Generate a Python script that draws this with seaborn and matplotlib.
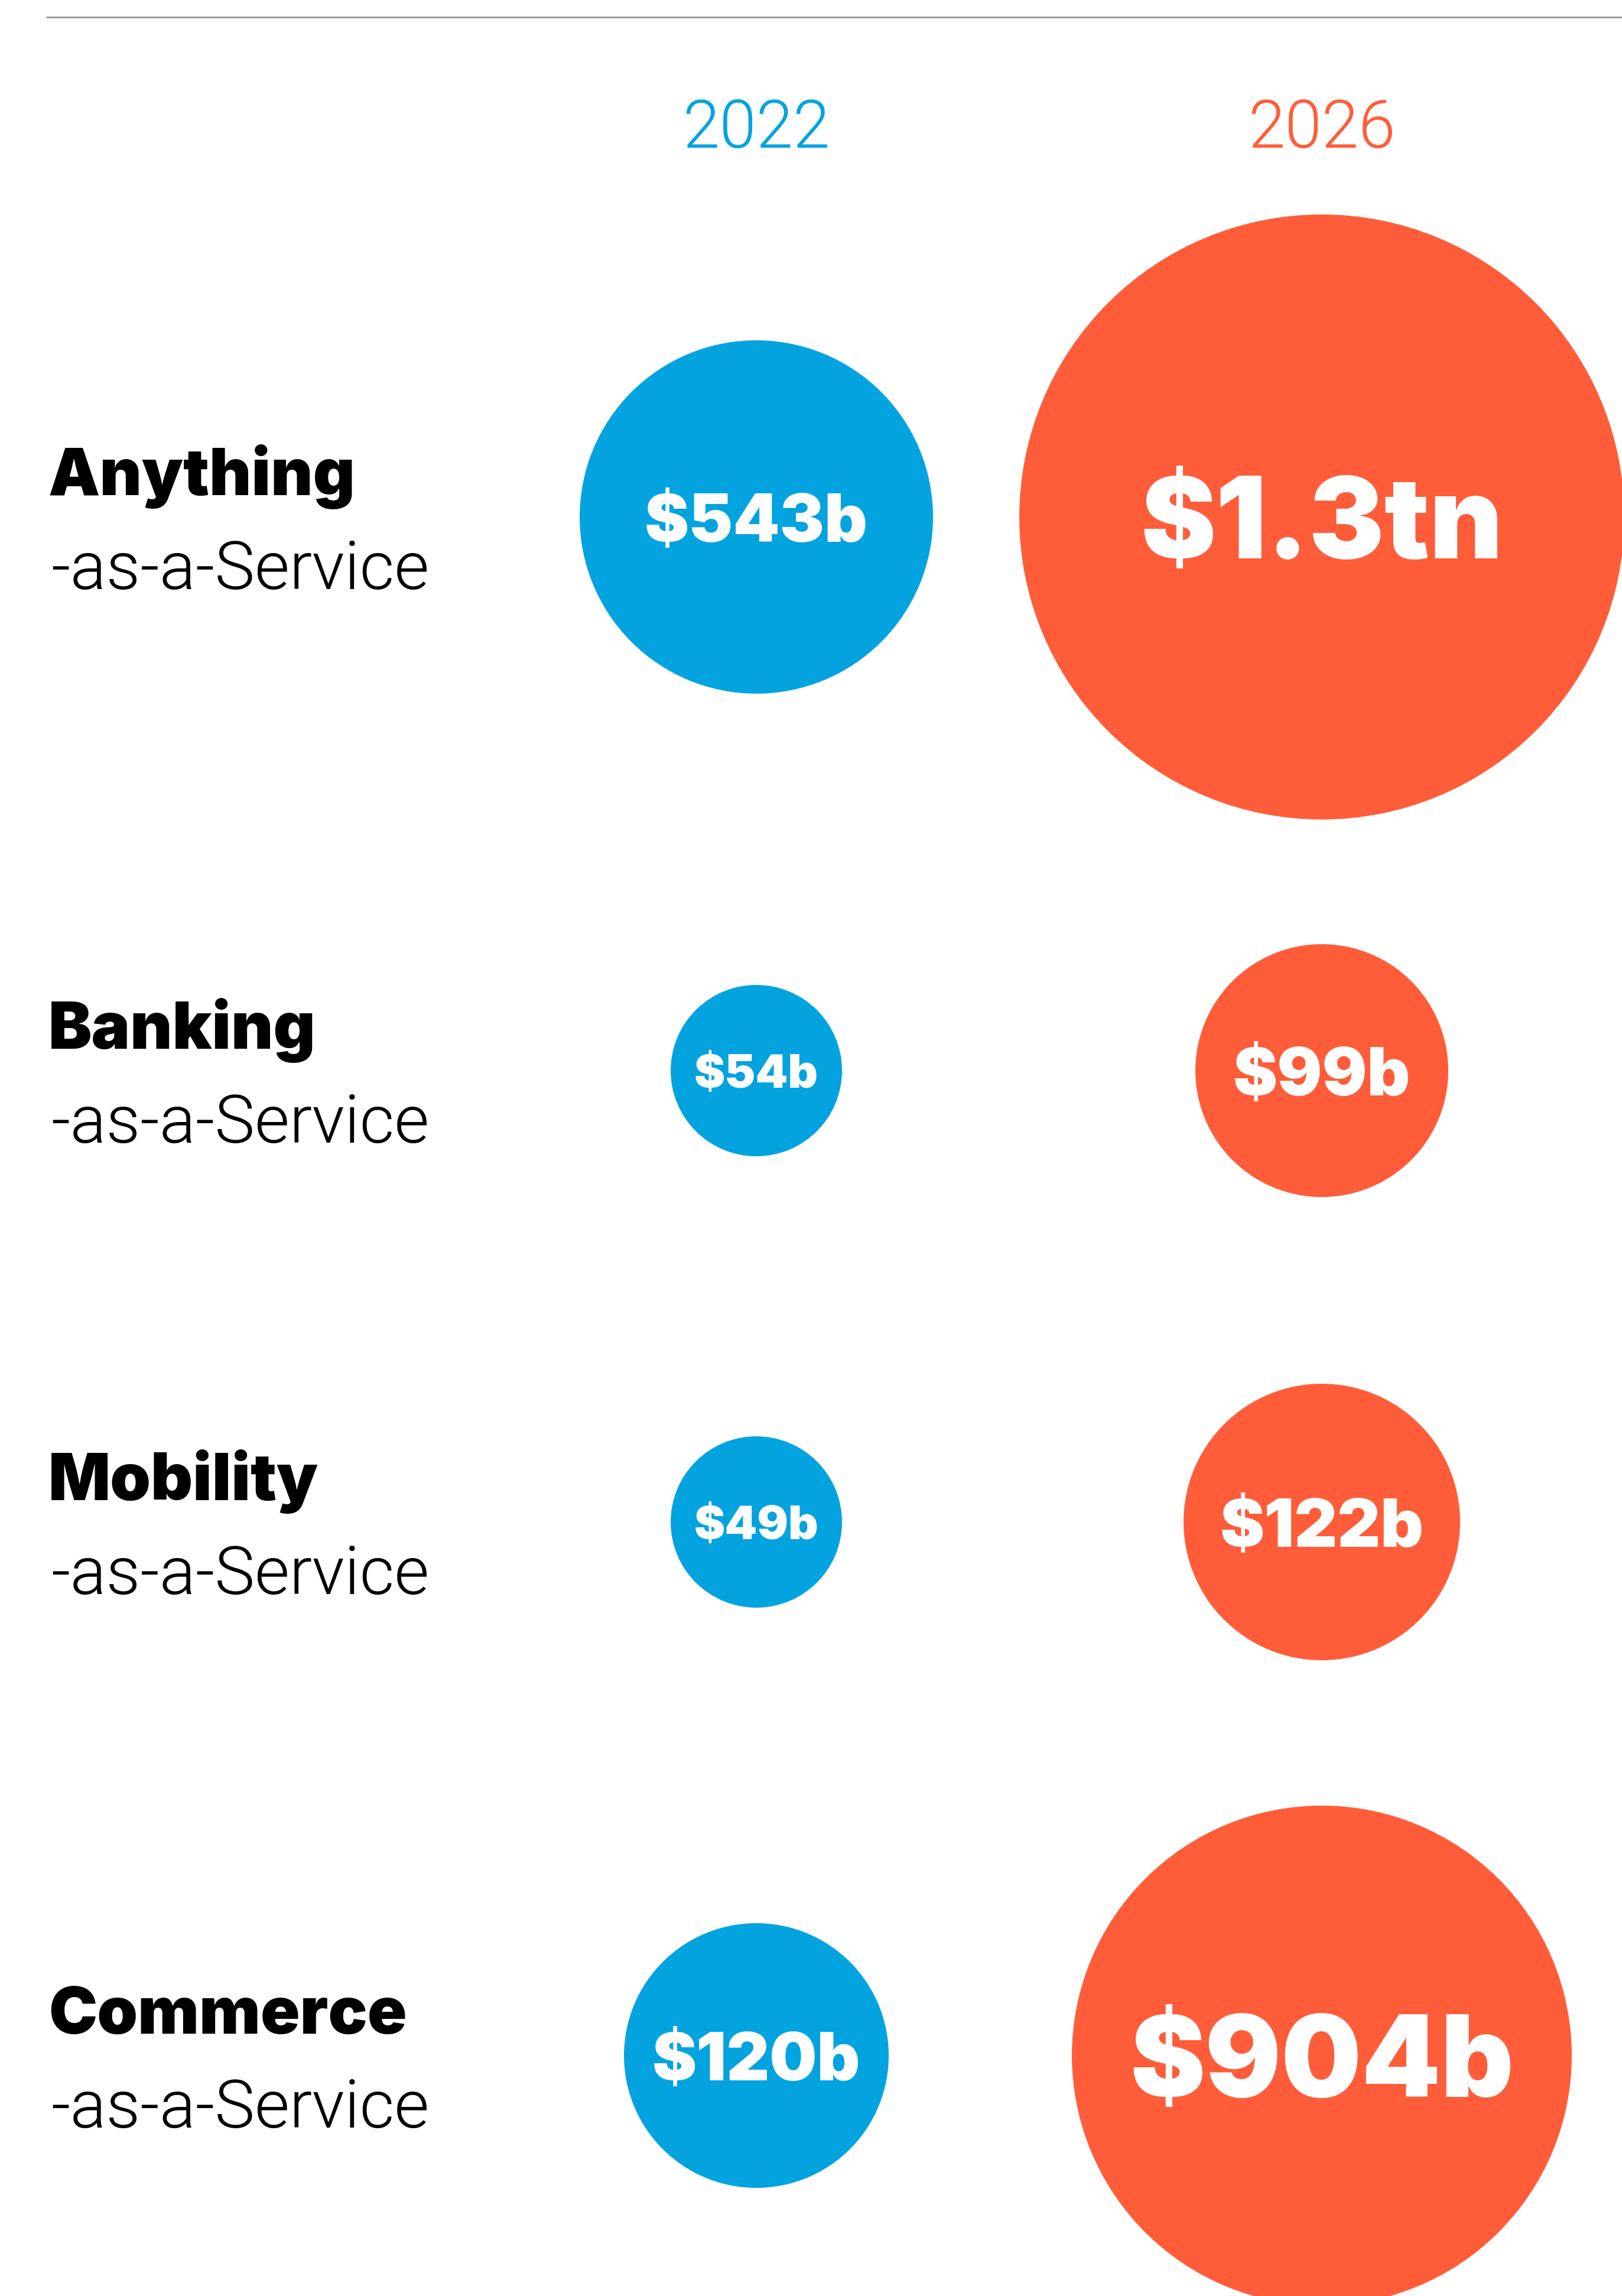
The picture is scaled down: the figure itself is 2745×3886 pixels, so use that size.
"""
Market size bubbles for the "-as-a-Service" segments, 2022 vs 2026.
"""

import matplotlib
matplotlib.use("Agg")  # file output only
import matplotlib.pyplot as plt
from matplotlib.lines import Line2D
import pandas as pd
import seaborn as sns

# ---- data ---------------------------------------------------------------
SERVICES = ["Anything", "Banking", "Mobility", "Commerce"]
SUFFIX = "-as-a-Service"
YEARS = ["2022", "2026"]
VALUES_2022 = [543, 54, 49, 120]        # $bn
VALUES_2026 = [1300, 99, 122, 904]      # $bn
LABELS_2022 = ["$543b", "$54b", "$49b", "$120b"]
LABELS_2026 = ["$1.3tn", "$99b", "$122b", "$904b"]

# ---- style / layout -----------------------------------------------------
W, H, DPI = 2745, 3887, 100
BLUE = "#02A3DF"
ORANGE = "#FF5D3A"
YEAR_COLORS = {"2022": BLUE, "2026": ORANGE}
HEAVY = ["Inter", "DejaVu Sans"]
LIGHT = ["Roboto", "DejaVu Sans"]
CAP = 0.727                   # Inter cap height / em

ROW_CENTER_PX = [876, 1813, 2577, 3480]
ROW_H = 1000
COL_PX = (1280, 2237)        # where the two year columns sit
LABEL_X = 82 / W

# the original is not area-true, so bubble radii (px) are looked up per value
RADIUS_PX = {543: 299, 54: 145, 49: 145, 120: 224,
             1300: 512, 99: 214, 122: 234, 904: 423}
PT_PER_PX = 72 / DPI
SIZES = {v: (2 * r * PT_PER_PX) ** 2 for v, r in RADIUS_PX.items()}

sns.set_theme(style="white")
plt.rcParams["font.family"] = ["Roboto", "DejaVu Sans"]


def label_size(value):
    """Three type sizes for the in-bubble labels (cap heights 57/82/139 px)."""
    r = RADIUS_PX[value]
    if r < 180:
        cap_px = 57
    elif r < 350:
        cap_px = 82
    else:
        cap_px = 139
    return cap_px / CAP * PT_PER_PX


def build_frame():
    rows = []
    for year, vals, labs in [("2022", VALUES_2022, LABELS_2022),
                             ("2026", VALUES_2026, LABELS_2026)]:
        for svc, v, lab in zip(SERVICES, vals, labs):
            rows.append({"service": svc, "year": year, "value": v, "label": lab})
    return pd.DataFrame(rows)


def draw_row(fig, df, service, center_px, first=False):
    bottom = (H - center_px - ROW_H / 2) / H
    ax = fig.add_axes([0, bottom, 1, ROW_H / H])
    sub = df[df["service"] == service]

    sns.scatterplot(
        data=sub, x="year", y="service", hue="year", palette=YEAR_COLORS,
        size="value", sizes=SIZES, legend=False, linewidth=0,
        clip_on=False, ax=ax,
    )
    span = COL_PX[1] - COL_PX[0]
    ax.set_xlim(-COL_PX[0] / span, (W - COL_PX[0]) / span)
    ax.set_ylim(-0.5, 0.5)
    ax.axis("off")

    for i, (_, r) in enumerate(sub.iterrows()):
        fs = label_size(r["value"])
        # baseline sits half a cap height below the bubble centre
        ax.annotate(
            r["label"], xy=(i, 0), xytext=(0, -fs * CAP / 2),
            textcoords="offset points", ha="center", va="baseline",
            color="white", fontsize=fs, fontweight=900, family=HEAVY,
            parse_math=False,
        )

    # row title: heavy name over a light suffix
    ax.annotate(service, xy=(LABEL_X, 0), xycoords=("axes fraction", "data"),
                xytext=(0, 38 * PT_PER_PX), textcoords="offset points",
                ha="left", va="baseline", fontsize=80 / CAP * PT_PER_PX,
                fontweight=900, family=HEAVY, color="black")
    ax.annotate(SUFFIX, xy=(LABEL_X + 4 / W, 0), xycoords=("axes fraction", "data"),
                xytext=(0, -121 * PT_PER_PX), textcoords="offset points",
                ha="left", va="baseline", fontsize=82, fontweight=300,
                family=LIGHT, color="black")

    if first:
        for i, year in enumerate(YEARS):
            ax.annotate(year, xy=(i, H - 250), xycoords=("data", "figure pixels"),
                        ha="center", va="baseline", fontsize=81,
                        fontweight=300, family=LIGHT, color=YEAR_COLORS[year])
    return ax


def main():
    df = build_frame()
    fig = plt.figure(figsize=(W / DPI, H / DPI), dpi=DPI)
    fig.patch.set_facecolor("white")

    fig.add_artist(Line2D([79 / W, 1], [1 - 30 / H, 1 - 30 / H],
                          transform=fig.transFigure, color="#9B9B9B",
                          lw=3 * PT_PER_PX))

    for k, (svc, c) in enumerate(zip(SERVICES, ROW_CENTER_PX)):
        draw_row(fig, df, svc, c, first=(k == 0))

    fig.savefig("out.png", dpi=DPI, facecolor="white")
    plt.close(fig)


if __name__ == "__main__":
    main()
